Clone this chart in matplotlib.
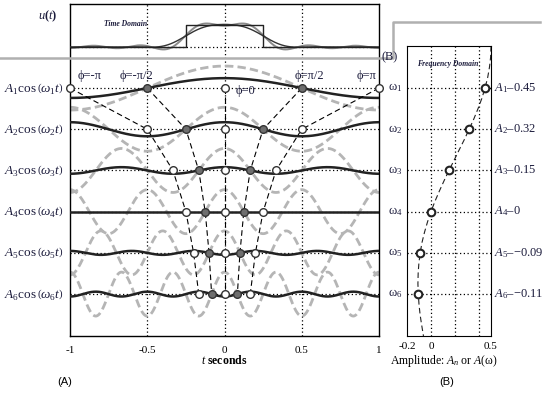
import numpy as np
import matplotlib
matplotlib.use("Agg")
import matplotlib.pyplot as plt
from matplotlib import transforms
from matplotlib.lines import Line2D

plt.rcParams['font.family'] = ['Liberation Serif', 'DejaVu Serif']
plt.rcParams['mathtext.fontset'] = 'custom'
plt.rcParams['mathtext.rm'] = 'Liberation Serif'
plt.rcParams['mathtext.it'] = 'Liberation Serif:italic'
plt.rcParams['mathtext.bf'] = 'Liberation Serif:bold'

# harmonic data
harmonics = [1, 2, 3, 4, 5, 6]
amplitudes = [0.45, 0.32, 0.15, 0.0, -0.09, -0.11]
amp_labels = ["0.45", "0.32", "0.15", "0", "\u22120.09", "\u22120.11"]
mean_level = 0.25
pulse_t = [-1, -0.25, -0.25, 0.25, 0.25, 1]
pulse_u = [0, 0, 1, 1, 0, 0]

# marked phases and their labels
phases = [-np.pi, -np.pi / 2, 0, np.pi / 2, np.pi]
phase_labels = ["\u03d5=-\u03c0", "\u03d5=-\u03c0/2", "\u03d5=0", "\u03d5=\u03c0/2", "\u03d5=\u03c0"]

# dashed continuous amplitude curve A(w), read along the harmonic axis
env_n = [-0.02, 0, 0.25, 0.5, 0.75, 1, 1.25, 1.5, 1.75, 2, 2.25, 2.5, 2.75, 3, 3.25,
         3.5, 3.75, 4, 4.25, 4.5, 4.75, 5, 5.25, 5.5, 5.75, 6, 6.25, 6.5, 6.75, 7, 7.02]
env_a = [0.5, 0.5, 0.497, 0.487, 0.472, 0.450, 0.424, 0.392, 0.357, 0.318, 0.278, 0.235,
         0.193, 0.150, 0.109, 0.070, 0.033, 0.0, -0.029, -0.054, -0.075, -0.090, -0.101,
         -0.107, -0.109, -0.106, -0.100, -0.091, -0.078, -0.064, -0.063]

# layout of the stacked rows (data units of panel A)
U_BASE = 13.14
ROW_TOP = 11.27
ROW_GAP = 1.873
row_base = [ROW_TOP - i * ROW_GAP for i in range(len(harmonics))]

W, H = 548, 394
fig = plt.figure(figsize=(W / 100, H / 100), dpi=100)


def fbox(l, t, r, b):
    return [l / W, 1 - b / H, (r - l) / W, (b - t) / H]


ax = fig.add_axes(fbox(70, 4, 379, 336))
ax2 = fig.add_axes(fbox(407, 46, 491, 336))

t = np.linspace(-1, 1, 600)
dot = (0, (1, 2))
gray = '#b5b5b5'
navy = '#1c1c3c'

# ---- panel A ----
ax.set_xlim(-1, 1)
ax.set_ylim(0, 15.09)
for xv in [-0.5, 0, 0.5]:
    ax.axvline(xv, color='k', lw=0.9, ls=dot, zorder=1)
ax.axhline(U_BASE, color='k', lw=0.9, ls=dot, zorder=1)

# time domain: pulse and its Fourier sums
partial = mean_level + sum(a * np.cos(n * np.pi * t) for n, a in zip(harmonics, amplitudes))
sig = [np.sinc(n / (len(harmonics) + 1)) for n in harmonics]
smooth = mean_level + sum(s * a * np.cos(n * np.pi * t) for n, a, s in zip(harmonics, amplitudes, sig))
ax.plot(t, U_BASE + partial, color='#8a8a8a', lw=1.4, zorder=2)
ax.plot(t, U_BASE + smooth, color='#333333', lw=1.0, zorder=3)
ax.plot(pulse_t, [U_BASE + u for u in pulse_u], color='#222222', lw=1.0, zorder=3)

for n, a, yb in zip(harmonics, amplitudes, row_base):
    w = n * np.pi
    ax.axhline(yb, color='k', lw=0.9, ls=dot, zorder=1)
    ax.plot(t, yb + np.cos(w * t), color=gray, lw=2.0, ls=(0, (3, 1.5)), zorder=2)
    ax.plot(t, yb + a * np.cos(w * t), color='#222222', lw=1.8, zorder=3)

# connecting lines of equal phase and the markers
for k, ph in enumerate(phases):
    xs = [ph / (n * np.pi) for n in harmonics]
    ax.plot(xs, row_base, color='k', lw=0.8, ls=(0, (5, 3)), zorder=4)
    face = '#6e6e6e' if k in (1, 3) else 'white'
    ax.plot(xs, row_base, ls='none', marker='o', ms=5.5, mfc=face, mec='#333333',
            mew=1.0, zorder=5, clip_on=False)

# phase labels on the first row
lab_pos = [(-0.87, 0.55), (-0.57, 0.55), (0.07, -0.15), (0.55, 0.55), (0.92, 0.55)]
for (lx, dy), txt in zip(lab_pos, phase_labels):
    ha = 'center'
    if txt == "\u03d5=0":
        ha = 'left'
    ax.text(lx, row_base[0] + dy, txt, fontsize=9, color=navy, ha=ha, va='center', zorder=6)

ax.set_xticks([-1, -0.5, 0, 0.5, 1])
ax.set_xticklabels(["-1", "-0.5", "0", "0.5", "1"])
ax.tick_params(axis='x', length=0, pad=7, labelsize=8)
ax.set_yticks([])
for s in ax.spines.values():
    s.set_linewidth(1.0)

bt = transforms.blended_transform_factory(ax.transAxes, ax.transData)
for n, yb in zip(harmonics, row_base):
    ax.text(-0.022, yb, r"$A_{%d}\cos\left(\omega_{%d}t\right)$" % (n, n), transform=bt,
            ha='right', va='center', fontsize=9.5, color=navy)
    ax.text(1.03, yb, r"$\mathrm{\omega}_{%d}$" % n, transform=bt, ha='left', va='center',
            fontsize=9, color=navy)
ax.text(-0.04, U_BASE + 1.4, r"$\mathbf{\mathit{u}(\mathit{t})}$", transform=bt, ha='right',
        va='center', fontsize=9, color=navy, fontweight='bold')
ax.text(0.181, 0.94, "Time Domain", transform=ax.transAxes, ha='center', va='center',
        fontsize=5.5, fontweight='bold', style='italic', color=navy)
ax.text(0.5, -0.075, r"$t$ seconds", transform=ax.transAxes, ha='center', va='center',
        fontsize=8.5, fontweight='bold')

# ---- panel B ----
ax2.set_xlim(-0.2, 0.5)
ax2.set_ylim(7.02, -0.02)
for xv in [0, 0.2, 0.4]:
    ax2.axvline(xv, color='k', lw=0.9, ls=dot, zorder=1)
for n in harmonics:
    ax2.axhline(n, color='k', lw=0.9, ls=dot, zorder=1)
ax2.plot(env_a, env_n, color='#222222', lw=0.8, ls=(0, (5, 3)), zorder=2)
ax2.plot(amplitudes, harmonics, ls='none', marker='o', ms=5.5, mfc='white', mec='#222222',
         mew=1.5, zorder=4, clip_on=False)
ax2.set_xticks([-0.2, 0, 0.5])
ax2.set_xticklabels(["-0.2", "0", "0.5"])
ax2.tick_params(axis='x', length=0, pad=4, labelsize=8)
ax2.set_yticks([])
ax2.text(0.49, 0.938, "Frequency Domain", transform=ax2.transAxes, ha='center', va='center',
         fontsize=5.5, fontweight='bold', style='italic', color=navy)
bt2 = transforms.blended_transform_factory(ax2.transAxes, ax2.transData)
for n, lab in zip(harmonics, amp_labels):
    ax2.text(1.03, n, r"$A_{%d}$" % n + "\u2013" + lab, transform=bt2, ha='left', va='center',
             fontsize=9, color=navy)

# ---- figure level annotations ----
fig.lines.append(Line2D([0, 393 / W, 393 / W, 540 / W], [1 - 58 / H, 1 - 58 / H, 1 - 22 / H, 1 - 22 / H],
                        transform=fig.transFigure, color='#b0b0b0', lw=1.8))
fig.text(390 / W, 1 - 57 / H, "(B)", ha='center', va='center', fontsize=9, color=navy)
fig.text(444 / W, 1 - 361 / H, r"Amplitude: $A_n$ or $A$(" + "\u03c9)", ha='center', va='center',
         fontsize=8.5)
fig.text(65 / W, 1 - 382 / H, "(A)", ha='center', va='center', fontsize=8, family='Liberation Sans')
fig.text(447 / W, 1 - 382 / H, "(B)", ha='center', va='center', fontsize=8, family='Liberation Sans')

fig.savefig("out.png", dpi=100)
